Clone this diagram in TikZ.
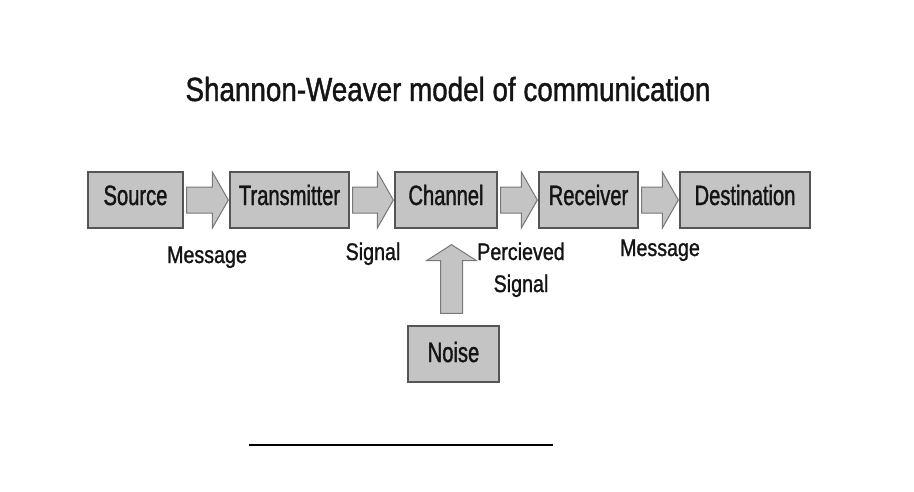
\documentclass[tikz,border=0pt]{standalone}
\usepackage{fontspec}
\usetikzlibrary{calc}
\setmainfont{Liberation Sans}
\newfontfamily\titlefont{Liberation Sans}[FakeStretch=0.83, FakeBold=1.2]
\newfontfamily\boxfont{Liberation Sans}[FakeStretch=0.72, FakeBold=1.2]
\newfontfamily\labfont{Liberation Sans}[FakeStretch=0.82, FakeBold=1.2]
\definecolor{boxfill}{RGB}{196,196,196}
\definecolor{boxline}{RGB}{85,85,85}
\definecolor{arrline}{RGB}{120,120,120}
\definecolor{txt}{RGB}{20,20,20}
\tikzset{
  stage/.style={draw=boxline, fill=boxfill, line width=1.3pt, inner sep=0pt,
    minimum height=56pt, text height=20pt, text depth=10pt, text=txt,
    font=\boxfont\fontsize{28}{30}\selectfont},
  blockarr/.style={draw=arrline, fill=boxfill, line width=1pt, line join=miter},
  lab/.style={anchor=base, text=txt, font=\labfont\fontsize{24}{32}\selectfont, inner sep=0pt},
}
\newcommand\harrow[2]{%
  \filldraw[blockarr] let \p1=(#1.east), \p2=(#2.west) in
    (\x1+3pt,\y1+13pt) -- (\x2-17pt,\y1+13pt) -- (\x2-17pt,\y1+28pt) --
    (\x2-1pt,\y1) -- (\x2-17pt,\y1-28pt) -- (\x2-17pt,\y1-13pt) --
    (\x1+3pt,\y1-13pt) -- cycle;}
\begin{document}
\begin{tikzpicture}[x=1pt,y=-1pt]
\useasboundingbox (0,0) rectangle (914,491);
\node[anchor=base, text=txt, inner sep=0pt, font=\titlefont\fontsize{33.5}{36}\selectfont] (title) at (448,101) {Shannon-Weaver model of communication};
\node[stage, minimum width=95pt] (src) at (135.5,200) {Source};
\node[stage, minimum width=119pt] (tx) at (289.5,200) {Transmitter};
\node[stage, minimum width=102pt] (ch) at (446,200) {Channel};
\node[stage, minimum width=99pt] (rx) at (588.5,200) {Receiver};
\node[stage, minimum width=130pt] (dst) at (745,200) {Destination};
\node[stage, minimum width=91pt, text depth=4pt] (noise) at (453.5,354) {Noise};
\harrow{src}{tx}
\harrow{tx}{ch}
\harrow{ch}{rx}
\harrow{rx}{dst}
\filldraw[blockarr] let \p1=(noise.north), \p2=(ch.south) in
  (\x1-13pt,\y1+12pt) -- (\x1-13pt,\y2-32pt) -- (\x1-27pt,\y2-32pt) --
  (\x1-2pt,\y2-16pt) -- (\x1+23pt,\y2-32pt) -- (\x1+9pt,\y2-32pt) --
  (\x1+9pt,\y1+12pt) -- cycle;
\node[lab] (l1) at (207,263) {Message};
\node[lab] (l2) at (373,260) {Signal};
\node[lab, align=center] (l3) at (521,292) {Percieved\\Signal};
\node[lab] (l4) at (660,256) {Message};
\coordinate (ula) at (249,445);
\coordinate (ulb) at (553,445);
\draw[line width=2.5pt] (ula) -- (ulb);
\end{tikzpicture}
\end{document}
